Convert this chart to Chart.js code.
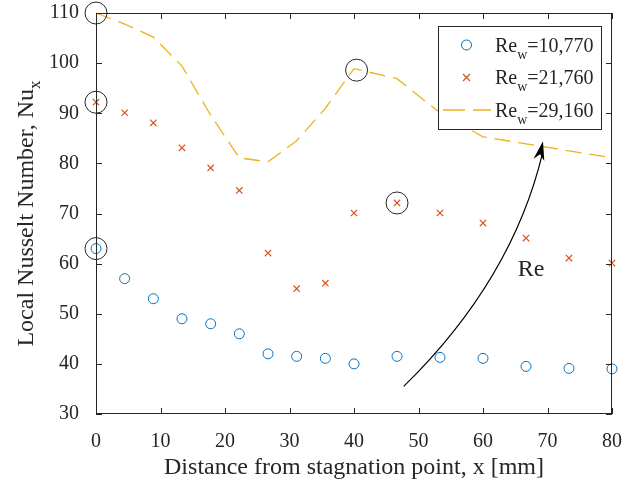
<!DOCTYPE html>
<html>
<head>
<meta charset="utf-8">
<script src="https://cdn.jsdelivr.net/npm/chart.js@4/dist/chart.umd.min.js"></script>
<style>
  html, body { margin: 0; padding: 0; background: #fff; }
  #wrap { width: 639px; height: 482px; }
</style>
</head>
<body>
<div id="wrap"><canvas id="nuChart" width="639" height="482"></canvas></div>
<script>
// Data
const distance = [0, 4.44, 8.89, 13.33, 17.78, 22.22, 26.67, 31.11, 35.56, 40, 46.67, 53.33, 60, 66.67, 73.33, 80];
const nuRe10770 = [63, 57, 53, 49, 48, 46, 42, 41.5, 41.1, 40, 41.5, 41.3, 41.1, 39.5, 39.1, 39];
const nuRe21760 = [92.2, 90.1, 88.1, 83.1, 79.1, 74.6, 62.1, 55, 56.1, 70.1, 72.1, 70.1, 68.1, 65.1, 61.1, 60.1];
const nuRe29160 = [110, 107.8, 105.2, 99.4, 89.6, 81.1, 80.3, 84.5, 91, 98.9, 96.9, 90.1, 85.3, 83.9, 82.5, 81.1];
const seriesLabels = ['10,770', '21,760', '29,160'];

// circled points
const markedX = [0, 0, 0, 40.4, 46.67];
const markedY = [110, 92.2, 63, 98.6, 72.1];

const xTicks = [0, 10, 20, 30, 40, 50, 60, 70, 80];
const yTicks = [30, 40, 50, 60, 70, 80, 90, 100, 110];

// arrow annotation (start, control, end) and its label, in data units
const arrowPts = [[47.7, 35.5], [64.6, 56.8], [69.3, 84.4]];
const arrowLabel = { x: 65.4, y: 57.5, text: 'Re' };

const SERIF = "'Liberation Serif', 'Times New Roman', serif";
const INK = '#262626';
const BLUE = '#0072BD', RED = '#D95319', YELLOW = '#EDB120';

const toPoints = (xs, ys) => xs.map((x, i) => ({ x: x, y: ys[i] }));

// text with subscript, returns end x
function subText(ctx, x, y, main, sub, tail, size, subSize, drop) {
  ctx.font = size + 'px ' + SERIF;
  ctx.fillText(main, x, y);
  x += ctx.measureText(main).width;
  ctx.font = subSize + 'px ' + SERIF;
  ctx.fillText(sub, x, y + drop);
  x += ctx.measureText(sub).width;
  if (tail) {
    ctx.font = size + 'px ' + SERIF;
    ctx.fillText(tail, x, y);
    x += ctx.measureText(tail).width;
  }
  return x;
}

const decorations = {
  id: 'decorations',
  afterDraw(chart) {
    const ctx = chart.ctx;
    const a = chart.chartArea;
    const xs = chart.scales.x, ys = chart.scales.y;
    ctx.save();

    // box + inward ticks
    ctx.strokeStyle = INK;
    ctx.lineWidth = 1;
    ctx.strokeRect(a.left + 0.5, a.top + 0.5, a.right - a.left - 1, a.bottom - a.top - 1);
    const tl = 6;
    ctx.beginPath();
    xTicks.forEach(v => {
      const px = Math.round(xs.getPixelForValue(v)) + 0.5;
      ctx.moveTo(px, a.bottom); ctx.lineTo(px, a.bottom - tl);
      ctx.moveTo(px, a.top); ctx.lineTo(px, a.top + tl);
    });
    yTicks.forEach(v => {
      const py = Math.round(ys.getPixelForValue(v)) + 0.5;
      ctx.moveTo(a.left, py); ctx.lineTo(a.left + tl, py);
      ctx.moveTo(a.right, py); ctx.lineTo(a.right - tl, py);
    });
    ctx.stroke();

    // axis titles
    ctx.fillStyle = INK;
    ctx.font = '24px ' + SERIF;
    ctx.textAlign = 'center';
    ctx.textBaseline = 'alphabetic';
    ctx.fillText('Distance from stagnation point, x [mm]', (a.left + a.right) / 2, 474);

    ctx.save();
    ctx.translate(32.5, (a.top + a.bottom) / 2);
    ctx.rotate(-Math.PI / 2);
    ctx.textAlign = 'left';
    ctx.font = '24px ' + SERIF;
    const mainW = ctx.measureText('Local Nusselt Number, Nu').width;
    ctx.font = '17px ' + SERIF;
    const subW = ctx.measureText('x').width;
    subText(ctx, -(mainW + subW) / 2, 0, 'Local Nusselt Number, Nu', 'x', '', 24, 17, 7);
    ctx.restore();

    // legend
    const bw = 163, bh = 103;
    const bx = a.right - 11 - bw, by = a.top + 13;
    ctx.fillStyle = '#fff';
    ctx.fillRect(bx, by, bw, bh);
    ctx.strokeStyle = INK;
    ctx.strokeRect(bx + 0.5, by + 0.5, bw, bh);
    const rows = [by + 19, by + 51.5, by + 84];
    const mx = bx + 28.5;
    // circle
    ctx.strokeStyle = BLUE;
    ctx.beginPath(); ctx.arc(mx, rows[0], 5, 0, Math.PI * 2); ctx.stroke();
    // cross
    ctx.strokeStyle = RED;
    ctx.lineWidth = 1.2;
    ctx.beginPath();
    ctx.moveTo(mx - 3.5, rows[1] - 3.5); ctx.lineTo(mx + 3.5, rows[1] + 3.5);
    ctx.moveTo(mx + 3.5, rows[1] - 3.5); ctx.lineTo(mx - 3.5, rows[1] + 3.5);
    ctx.stroke();
    // dashed line sample
    ctx.strokeStyle = YELLOW;
    ctx.lineWidth = 1.3;
    ctx.setLineDash([22, 8]);
    ctx.beginPath(); ctx.moveTo(bx + 5, rows[2]); ctx.lineTo(bx + 53, rows[2]); ctx.stroke();
    ctx.setLineDash([]);
    ctx.lineWidth = 1;
    ctx.fillStyle = INK;
    ctx.textAlign = 'left';
    seriesLabels.forEach((lab, i) => {
      subText(ctx, bx + 57, rows[i] + 6.5, 'Re', 'w', '=' + lab, 20, 14, 7);
    });

    // curved arrow
    const p = arrowPts.map(q => [xs.getPixelForValue(q[0]), ys.getPixelForValue(q[1])]);
    ctx.strokeStyle = '#000';
    ctx.lineWidth = 1.2;
    ctx.beginPath();
    ctx.moveTo(p[0][0], p[0][1]);
    ctx.quadraticCurveTo(p[1][0], p[1][1], p[2][0], p[2][1] + 10);
    ctx.stroke();
    const ang = Math.atan2(p[2][1] - p[1][1], p[2][0] - p[1][0]);
    const hl = 19, hw = 5.5;
    const tip = p[2];
    const ux = Math.cos(ang), uy = Math.sin(ang);
    const bxh = tip[0] - ux * hl, byh = tip[1] - uy * hl;
    ctx.fillStyle = '#000';
    ctx.beginPath();
    ctx.moveTo(tip[0], tip[1]);
    ctx.lineTo(bxh - uy * hw, byh + ux * hw);
    ctx.lineTo(tip[0] - ux * hl * 0.7, tip[1] - uy * hl * 0.7);
    ctx.lineTo(bxh + uy * hw, byh - ux * hw);
    ctx.closePath();
    ctx.fill();

    ctx.fillStyle = INK;
    ctx.font = '24px ' + SERIF;
    ctx.textAlign = 'left';
    ctx.fillText(arrowLabel.text, xs.getPixelForValue(arrowLabel.x), ys.getPixelForValue(arrowLabel.y));

    ctx.restore();
  }
};

const tickFont = { family: SERIF, size: 20 };

new Chart(document.getElementById('nuChart'), {
  type: 'scatter',
  data: {
    datasets: [
      {
        label: 'marked',
        data: toPoints(markedX, markedY),
        pointStyle: 'circle',
        pointRadius: 11,
        borderColor: INK,
        backgroundColor: 'rgba(0,0,0,0)',
        borderWidth: 1,
        clip: false
      },
      {
        label: 'Re_w=' + seriesLabels[0],
        data: toPoints(distance, nuRe10770),
        pointStyle: 'circle',
        pointRadius: 5,
        borderColor: BLUE,
        backgroundColor: 'rgba(0,0,0,0)',
        borderWidth: 1,
        clip: false
      },
      {
        label: 'Re_w=' + seriesLabels[1],
        data: toPoints(distance, nuRe21760),
        pointStyle: 'crossRot',
        pointRadius: 4.5,
        borderColor: RED,
        borderWidth: 1.2,
        clip: false
      },
      {
        label: 'Re_w=' + seriesLabels[2],
        data: toPoints(distance, nuRe29160),
        showLine: true,
        pointRadius: 0,
        borderColor: YELLOW,
        borderWidth: 1.3,
        borderDash: [16, 8],
        tension: 0,
        clip: false
      }
    ]
  },
  options: {
    responsive: false,
    animation: false,
    devicePixelRatio: 1,
    layout: { padding: { top: 13, right: 27, left: 0, bottom: 0 } },
    plugins: {
      legend: { display: false },
      tooltip: { enabled: false }
    },
    scales: {
      x: {
        type: 'linear',
        min: 0,
        max: 80,
        afterBuildTicks: s => { s.ticks = xTicks.map(v => ({ value: v })); },
        afterFit: s => { s.height = 68; s.paddingLeft = 0; s.paddingRight = 0; },
        ticks: { font: tickFont, color: INK, padding: 8, maxRotation: 0 },
        grid: { display: false },
        border: { display: false }
      },
      y: {
        type: 'linear',
        min: 30,
        max: 110,
        afterBuildTicks: s => { s.ticks = yTicks.map(v => ({ value: v })); },
        afterFit: s => { s.width = 96; s.paddingTop = 0; s.paddingBottom = 0; },
        ticks: { font: tickFont, color: INK, padding: 9 },
        grid: { display: false },
        border: { display: false }
      }
    }
  },
  plugins: [decorations]
});
</script>
</body>
</html>
